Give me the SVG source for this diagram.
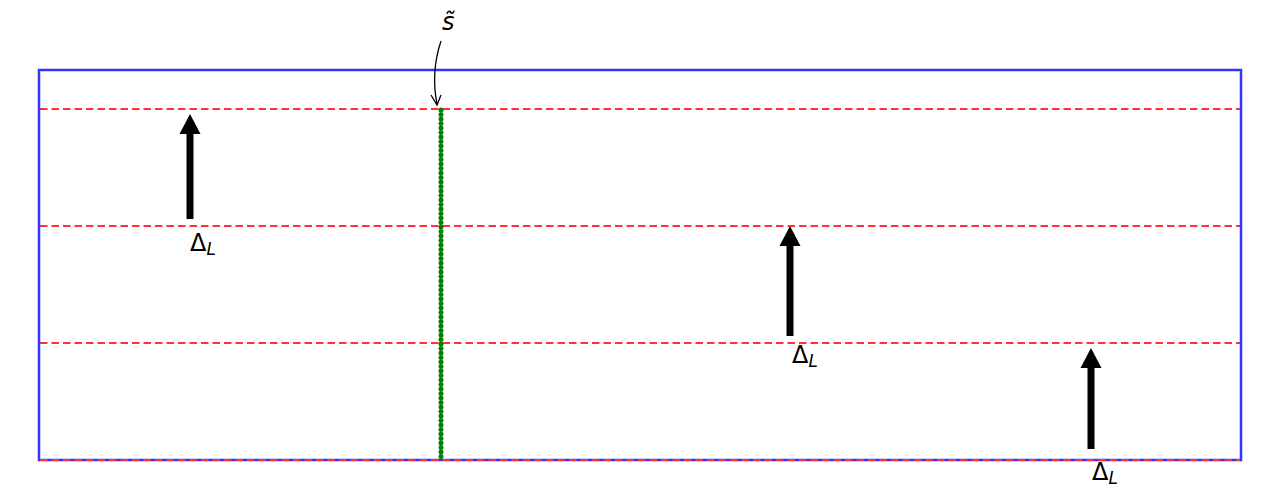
<svg xmlns="http://www.w3.org/2000/svg" width="1274" height="500" viewBox="0 0 1274 500">
<defs>
<style>
.red{stroke:#ff3333;stroke-width:2.2;stroke-dasharray:7.5 4;fill:none}
.lbl{font-family:"DejaVu Sans",sans-serif;font-size:24px;fill:#000}
.sub{font-style:italic;font-size:17px}
.shaft{stroke:#000;stroke-width:7;fill:none}
.head{fill:#000}
</style>
</defs>
<rect width="1274" height="500" fill="#fff"/>
<g id="lines">
<line class="red" x1="40" y1="109" x2="1240" y2="109"/>
<line class="red" x1="40" y1="226" x2="1240" y2="226"/>
<line class="red" x1="40" y1="343" x2="1240" y2="343"/>
</g>
<g id="box">
<rect x="39" y="70" width="1202" height="390" fill="none" stroke="#3333ff" stroke-width="2.5"/>
<line class="red" x1="40" y1="460" x2="1240" y2="460"/>
</g>
<g id="green-line">
<line x1="441" y1="110" x2="441" y2="461" stroke="#007f00" stroke-width="5" stroke-linecap="round" stroke-dasharray="0 4.5"/>
</g>
<g id="connectors">
<g id="arrow1">
<line class="shaft" x1="190" y1="219" x2="190" y2="130"/>
<polygon class="head" points="190,114 200.5,134 179.5,134"/>
</g>
<g id="arrow2">
<line class="shaft" x1="790" y1="336" x2="790" y2="242"/>
<polygon class="head" points="790,226 800.5,246 779.5,246"/>
</g>
<g id="arrow3">
<line class="shaft" x1="1091" y1="449" x2="1091" y2="364"/>
<polygon class="head" points="1091,348 1101.5,368 1080.5,368"/>
</g>
<g id="annot-arrow">
<path d="M441,41 C434,62 433,84 437,104" fill="none" stroke="#000" stroke-width="1.3"/>
<path d="M431,95 L437,105 L441,95" fill="none" stroke="#000" stroke-width="1.3"/>
</g>
</g>
<g id="labels">
<text class="lbl" x="190" y="251">Δ<tspan class="sub" dy="4">L</tspan></text>
<text class="lbl" x="792" y="363">Δ<tspan class="sub" dy="4">L</tspan></text>
<text class="lbl" x="1092" y="480">Δ<tspan class="sub" dy="4">L</tspan></text>
<text class="lbl" x="442" y="30" font-style="italic" font-size="22">s̃</text>
</g>
</svg>
